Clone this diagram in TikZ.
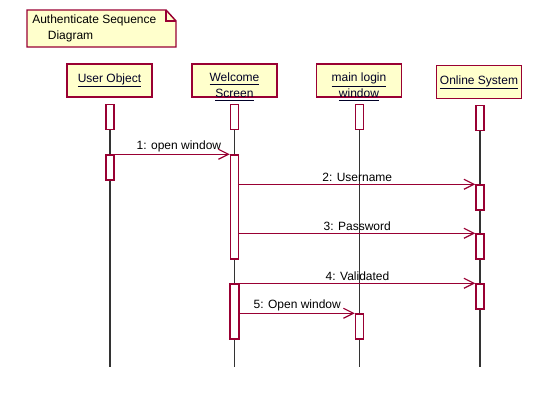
\documentclass[tikz,border=0pt]{standalone}
\usepackage{fontspec}
\setmainfont{Liberation Sans}
\usetikzlibrary{arrows.meta}
\definecolor{rose}{HTML}{990033}
\definecolor{noteyel}{HTML}{FFFFCC}
\definecolor{lifegray}{HTML}{333333}
\begin{document}
\begin{tikzpicture}[x=0.75pt,y=-0.75pt,
  objbox/.style={draw=rose,fill=noteyel,line width=1.1pt,minimum width=63.75pt,minimum height=24.75pt,inner sep=0pt},
  objtext/.style={font=\fontsize{9pt}{12pt}\selectfont,align=center,text=black!85!blue,inner sep=0pt},
  actbox/.style={draw=rose,fill=white,line width=1.1pt,minimum width=6pt,inner sep=0pt},
  lifeline/.style={draw=lifegray,line width=1.1pt},
  msg/.style={draw=rose,line width=0.9pt,-{Straight Barb[length=7.5pt,width=7.5pt,line width=0.9pt]}},
  msglabel/.style={font=\fontsize{9pt}{11pt}\selectfont,above=1.5pt,inner sep=0pt}]
\useasboundingbox (0,0) rectangle (540,400);
% note
\draw[draw=rose,fill=noteyel,line width=1.1pt] (27,10) -- (166,10) -- (176,21) -- (176,47) -- (27,47) -- cycle;
\draw[draw=rose,line width=1.1pt] (166,10) -- (166,21) -- (176,21);
\node[font=\fontsize{9pt}{12pt}\selectfont,align=left,anchor=north west,inner sep=0pt] (notetext) at (32,15) {Authenticate Sequence\\\hspace{1.3em}Diagram};
% objects
\node[objbox] (uo) at (109.5,80.5) {};
\node[objbox] (ws) at (234.5,80.5) {};
\node[objbox] (ml) at (359,80.5) {};
\node[objbox] (os) at (479,82) {};
\node[objtext] (uot) at (109.5,80.5) {\underline{User Object}};
\node[objtext] (wst) at (234.5,87) {\underline{Welcome}\\\underline{Screen}};
\node[objtext] (mlt) at (359,87) {\underline{main login}\\\underline{window}};
\node[objtext] (ost) at (479,82.5) {\underline{Online System}};
% lifeline ends
\coordinate (uoe) at (110,367);
\coordinate (wse) at (234.5,367);
\coordinate (mle) at (359.5,367);
\coordinate (ose) at (480,367);
\coordinate (uos) at (110,104);
\coordinate (wss) at (234.5,104);
\coordinate (mls) at (359.5,104);
\coordinate (oss) at (480,105);
\draw[lifeline] (uos) -- (uoe);
\draw[lifeline] (wss) -- (wse);
\draw[lifeline] (mls) -- (mle);
\draw[lifeline] (oss) -- (ose);
% activations
\node[actbox,minimum height=18.75pt] (ua1) at (110,117) {};
\node[actbox,minimum height=18.75pt] (wa0) at (234.5,117) {};
\node[actbox,minimum height=18.75pt] (ma0) at (359.5,117) {};
\node[actbox,minimum height=18.75pt] (oa0) at (480,118) {};
\node[actbox,minimum height=18.75pt] (ua2) at (110,167.5) {};
\node[actbox,minimum height=78pt] (wa1) at (234.5,207) {};
\node[actbox,minimum height=18.75pt] (oa1) at (480,197.5) {};
\node[actbox,minimum height=18.75pt] (oa2) at (480,246.5) {};
\node[actbox,minimum height=18.75pt] (oa3) at (480,296.5) {};
\node[actbox,minimum height=41.25pt,minimum width=6.75pt] (wa2) at (234.5,311.5) {};
\node[actbox,minimum height=18.75pt] (ma1) at (359.5,326.5) {};
% messages
\draw[msg] (ua2.north east) -- node[msglabel,xshift=5pt] (m1) {1: open window} (ua2.north east -| wa1.west);
\draw[msg] (wa1.east |- oa1.north) -- node[msglabel] (m2) {2: Username} (oa1.north west);
\draw[msg] (wa1.east |- oa2.north) -- node[msglabel] (m3) {3: Password} (oa2.north west);
\draw[msg] (wa2.north east) -- node[msglabel] (m4) {4: Validated} (wa2.north east -| oa3.west);
\draw[msg] (wa2.east |- ma1.north) -- node[msglabel] (m5) {5: Open window} (ma1.north west);
\end{tikzpicture}
\end{document}
